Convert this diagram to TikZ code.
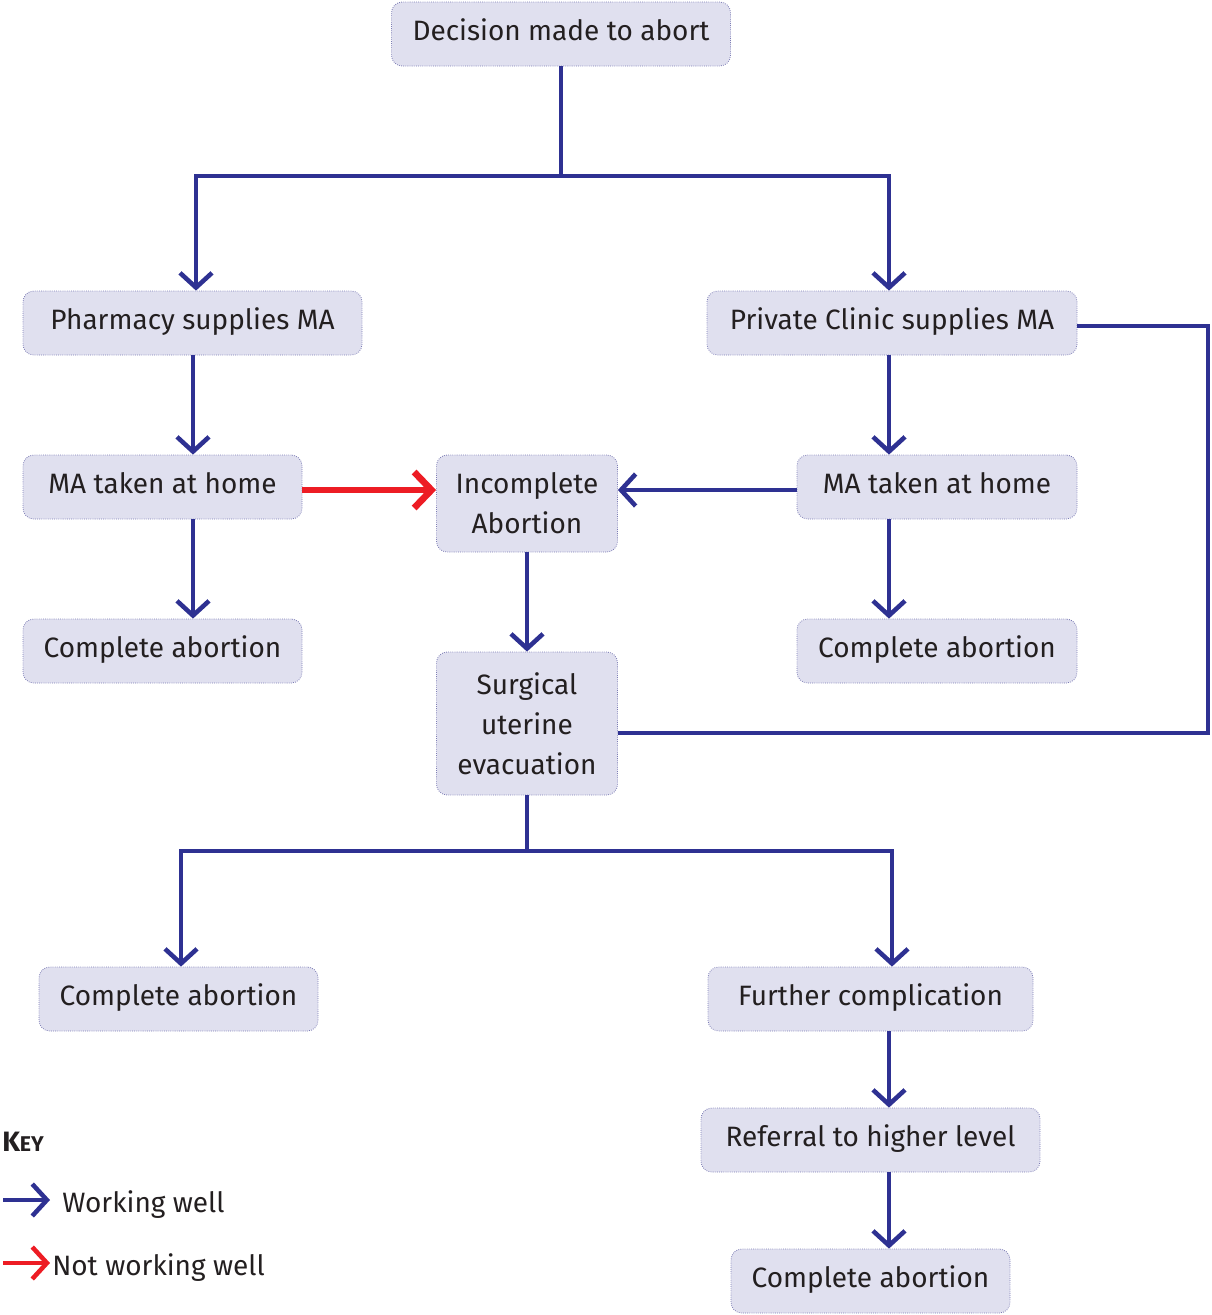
\documentclass[tikz,border=0pt]{standalone}
\usepackage{fontspec}
\setmainfont{Fira Sans}
\usetikzlibrary{arrows.meta}
\definecolor{boxfill}{HTML}{E0E0EF}
\definecolor{boxline}{HTML}{7C7CB4}
\definecolor{good}{HTML}{2E3192}
\definecolor{bad}{HTML}{ED1C24}
\definecolor{ink}{HTML}{231F20}
\newlength\pxu
\setlength\pxu{0.75pt}
\begin{document}
\begin{tikzpicture}[x=0.75pt,y=-0.75pt,
  box/.style={rounded corners=8pt, fill=boxfill, draw=boxline, densely dotted,
    line width=0.6pt, align=center, inner sep=0pt, text=ink,
    font=\fontsize{21}{30}\selectfont},
  flow/.style={draw=good, line width=3.4pt, solid},
  tip/.style={-{Straight Barb[length=11pt,width=24pt,line width=3.4pt]}},
  bigtip/.style={-{Straight Barb[length=13pt,width=27pt,line width=5pt]}},
  wbox/.style={box, minimum width=#1*\pxu},
  hbox/.style={minimum height=#1*\pxu},
  one/.style={text height=12pt, text depth=2pt}]
\useasboundingbox (0,0) rectangle (1212,1315);

% boxes
\node[wbox=339, hbox=64, one] (dec) at (561,34) {Decision made to abort};
\node[wbox=339, hbox=64, one] (pha) at (192.5,323) {Pharmacy supplies MA};
\node[wbox=370, hbox=64, one] (pri) at (892,323) {Private Clinic supplies MA};
\node[wbox=279, hbox=64, one] (mal) at (162.5,487) {MA taken at home};
\node[wbox=181, hbox=97] (inc) at (527,503.5) {Incomplete\\Abortion};
\node[wbox=280, hbox=64, one] (mar) at (937,487) {MA taken at home};
\node[wbox=279, hbox=64, one] (cal) at (162.5,651) {Complete abortion};
\node[wbox=280, hbox=64, one] (car) at (937,651) {Complete abortion};
\node[wbox=181, hbox=143] (sur) at (527,723.5) {Surgical\\uterine\\evacuation};
\node[wbox=279, hbox=64, one] (cbl) at (178.5,999) {Complete abortion};
\node[wbox=325, hbox=64, one] (fur) at (870.5,999) {Further complication};
\node[wbox=339, hbox=64, one] (ref) at (870.5,1140) {Referral to higher level};
\node[wbox=279, hbox=64, one] (cbr) at (870.5,1281) {Complete abortion};

% junction points
\coordinate (j1) at (dec.south |- 0,176);
\coordinate (j2) at (sur.south |- 0,851);
\coordinate (rc) at (1208,326);
\coordinate (rs) at (1208,733);

% connectors
\draw[flow] (dec.south) -- (j1);
\draw[flow, tip] (j1) -| (pha.north -| 196,0);
\draw[flow, tip] (j1) -| (pri.north -| 889,0);
\draw[flow, tip] (pha.south -| 193,0) -- (mal.north -| 193,0);
\draw[flow, tip] (mal.south -| 193,0) -- (cal.north -| 193,0);
\draw[flow, tip] (pri.south -| 889,0) -- (mar.north -| 889,0);
\draw[flow, tip] (mar.south -| 889,0) -- (car.north -| 889,0);
\draw[flow, tip] (mar.west |- 0,490) -- (inc.east |- 0,490);
\draw[flow, draw=bad, line width=5pt, bigtip] (mal.east |- 0,490) -- (inc.west |- 0,490);
\draw[flow, tip] (inc.south) -- (sur.north);
\draw[flow] (pri.east |- rc) -- (rc) -- (rs) -- (sur.east |- rs);
\draw[flow] (sur.south) -- (j2);
\draw[flow, tip] (j2) -| (cbl.north -| 181,0);
\draw[flow, tip] (j2) -| (fur.north -| 892,0);
\draw[flow, tip] (fur.south -| 889,0) -- (ref.north -| 889,0);
\draw[flow, tip] (ref.south -| 889,0) -- (cbr.north -| 889,0);

% key
\node[anchor=base west, inner sep=0pt, text=ink, font=\bfseries\fontsize{21}{21}\selectfont]
  (key) at (2,1151) {K{\fontsize{16}{16}\selectfont EY}};
\coordinate (k1a) at (3,1200);
\coordinate (k1b) at (50,1200);
\coordinate (k2a) at (3,1263);
\coordinate (k2b) at (50,1263);
\draw[flow, tip] (k1a) -- (k1b);
\draw[flow, draw=bad, tip] (k2a) -- (k2b);
\node[anchor=base west, inner sep=0pt, text=ink, font=\fontsize{21}{21}\selectfont]
  (kw) at (62,1212) {Working well};
\node[anchor=base west, inner sep=0pt, text=ink, font=\fontsize{21}{21}\selectfont]
  (kn) at (52,1275) {Not working well};
\end{tikzpicture}
\end{document}
